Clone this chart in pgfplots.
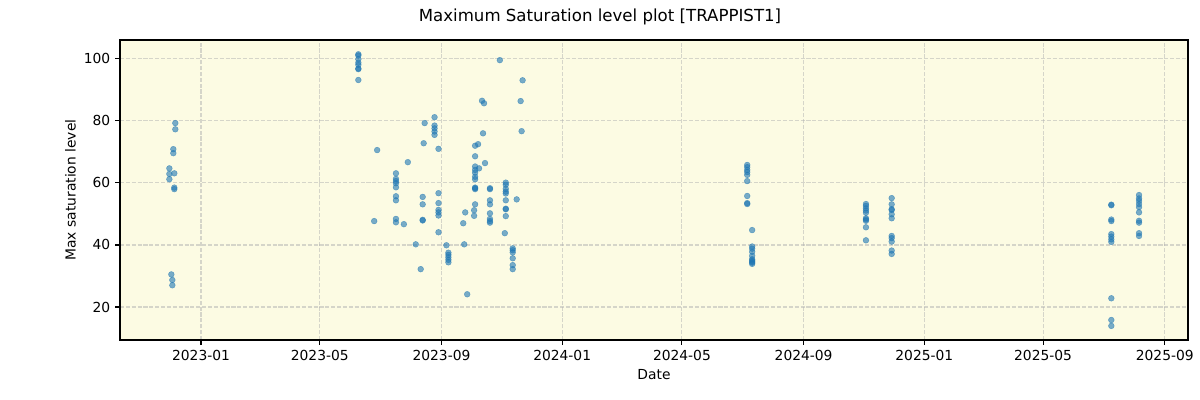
\documentclass[border=0pt]{standalone}
\usepackage{fontspec}
\setmainfont{DejaVu Sans}
\usepackage{pgfplots}
\pgfplotsset{compat=1.18}
\definecolor{bgyellow}{RGB}{252,251,227}
\definecolor{tabblue}{RGB}{31,119,180}
\definecolor{gridgray}{RGB}{176,176,176}
\begin{document}
\begin{tikzpicture}
% x = days since 2023-01-01
\useasboundingbox (-1.2in,-0.6in) rectangle (10.8in,3.4in);
\begin{axis}[
  at={(0,0)}, anchor=south west,
  scale only axis,
  width=10.68in, height=3.0in,
  xmin=-81.9, xmax=997.5,
  ymin=9.35, ymax=106.1,
  axis background/.style={fill=bgyellow},
  axis line style={line width=0.8pt},
  xtick={0,120,243,365,486,609,731,851,974},
  xticklabels={2023-01,2023-05,2023-09,2024-01,2024-05,2024-09,2025-01,2025-05,2025-09},
  ytick={20,40,60,80,100},
  tick align=outside,
  tick pos=left,
  major tick length=3.5pt,
  every tick/.style={black,line width=0.8pt},
  tick label style={font=\fontsize{10}{12}\selectfont},
  /pgf/number format/assume math mode=true,
  grid=major,
  major grid style={gridgray,opacity=0.5,dash pattern=on 2.96pt off 1.28pt,line width=0.8pt},
  xlabel={Date},
  ylabel={Max saturation level},
  label style={font=\fontsize{10}{12}\selectfont},
  xlabel style={yshift=0pt},
  ylabel style={yshift=-1pt},
]
\addplot[only marks, mark=*, mark size=2.1pt,
  mark options={fill=tabblue, draw=tabblue, fill opacity=0.6, draw opacity=0.6, line width=0.3pt}]
  table {
x y
-26 79.3
-26 77.3
-28 70.9
-28 69.6
-32 64.7
-32 62.9
-27 63.1
-32 61.2
-27 58.5
-27 58.0
-30 30.5
-29 28.7
-29 27.0
159 101.5
159 101.1
159 99.9
159 98.8
159 98.1
159 96.7
159 96.9
159 93.2
178 70.6
175 47.7
197 63.1
197 61.3
197 60.6
197 59.9
197 58.6
197 55.7
197 54.4
197 48.4
197 47.3
205 46.7
209 66.7
217 40.2
222 32.2
224 55.5
224 53.1
224 48.1
224 47.9
226 79.3
225 72.8
236 81.2
236 78.5
236 77.6
236 76.6
236 75.5
240 71.0
240 56.7
240 53.5
240 51.3
240 50.5
240 49.5
240 44.1
248 39.9
250 37.5
250 36.8
250 36.0
250 35.2
250 34.4
265 47.0
266 40.2
267 50.5
269 24.1
276 51.2
276 49.4
277 53.1
277 58.5
277 58.0
277 58.3
277 61.2
277 62.0
277 63.3
277 64.2
277 65.3
277 68.6
277 72.0
280 72.5
281 64.7
284 86.5
286 85.7
285 76.0
287 66.4
292 58.3
292 58.0
292 54.4
292 53.1
292 50.2
292 48.4
292 47.7
292 47.2
302 99.6
325 93.1
323 86.4
324 76.7
319 54.7
308 60.1
308 59.4
308 58.1
308 57.2
308 56.6
308 54.4
308 51.7
308 51.5
308 49.3
307 43.8
315 38.9
315 38.3
315 37.6
315 35.7
315 33.5
315 32.2
552 65.8
552 65.1
552 64.2
552 63.5
552 62.6
552 60.6
552 55.8
552 53.5
552 53.2
557 44.8
557 39.5
557 38.8
557 37.8
557 36.5
557 35.4
557 35.0
557 34.6
557 34.3
557 33.9
672 53.2
672 52.6
672 51.8
672 51.1
672 50.4
672 48.6
672 48.2
672 47.8
672 45.7
672 41.5
698 55.1
698 53.1
698 51.5
698 51.3
698 49.9
698 48.6
698 42.9
698 42.2
698 41.1
698 38.2
698 37.1
920 53.0
920 52.8
920 48.2
920 47.7
920 43.5
920 42.7
920 41.8
920 41.0
920 22.8
920 15.8
920 13.9
948 56.1
948 55.0
948 54.2
948 53.2
948 52.2
948 50.5
948 47.8
948 47.2
948 43.8
948 42.9
};
\end{axis}
\node[font=\fontsize{12}{14}\selectfont] at (4.8in,3.23in) {Maximum Saturation level plot [TRAPPIST1]};
\end{tikzpicture}
\end{document}
